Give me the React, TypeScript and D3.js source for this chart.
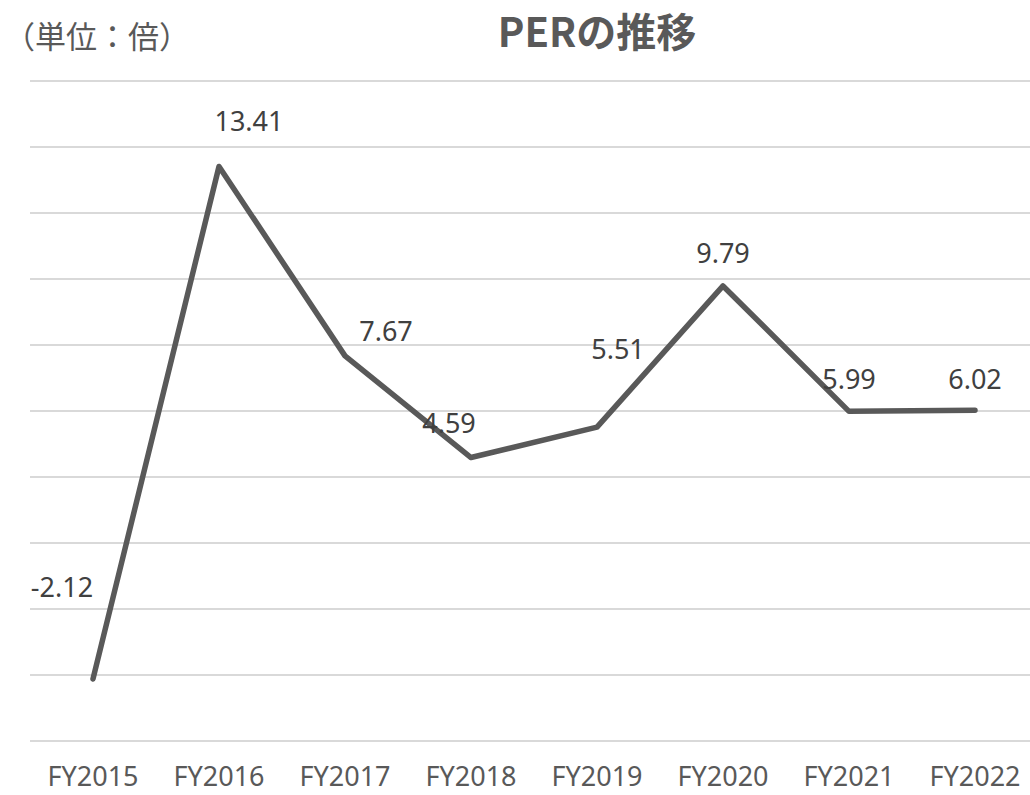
import { useEffect, useRef } from 'react';
import * as d3 from 'd3';

// chart data
const years = ['FY2015', 'FY2016', 'FY2017', 'FY2018', 'FY2019', 'FY2020', 'FY2021', 'FY2022'];
const perValues = [-2.12, 13.41, 7.67, 4.59, 5.51, 9.79, 5.99, 6.02];
const gridTicks = [-4, -2, 0, 2, 4, 6, 8, 10, 12, 14, 16];

// label nudges (Excel labels were moved by hand)
const labelShift: [number, number][] = [
  [-31, -91], [30, -45], [41, -24], [-22, -34], [21, -78], [0, -32], [0, -32], [0, -31],
];

const W = 1030;
const H = 795;

const App = () => {
  const svgRef = useRef<SVGSVGElement>(null);

  useEffect(() => {
    const svg = d3.select(svgRef.current);
    svg.selectAll('*').remove();

    const x = d3.scaleBand().domain(years).range([30, 1038]).padding(0);
    const y = d3.scaleLinear().domain([-4, 16]).range([741, 81]);
    const cx = (d: string) => (x(d) ?? 0) + x.bandwidth() / 2;

    // gridlines
    svg.append('g')
      .selectAll('line')
      .data(gridTicks)
      .enter().append('line')
      .attr('x1', 30)
      .attr('x2', W)
      .attr('y1', d => y(d))
      .attr('y2', d => y(d))
      .attr('stroke', '#d9d9d9')
      .attr('stroke-width', 2);

    // line
    const line = d3.line<number>()
      .x((_, i) => cx(years[i]))
      .y(d => y(d));

    svg.append('path')
      .datum(perValues)
      .attr('d', line)
      .attr('fill', 'none')
      .attr('stroke', '#595959')
      .attr('stroke-width', 5.5)
      .attr('stroke-linejoin', 'round')
      .attr('stroke-linecap', 'round');

    // data labels
    svg.append('g')
      .selectAll('text')
      .data(perValues)
      .enter().append('text')
      .attr('x', (_, i) => cx(years[i]) + labelShift[i][0])
      .attr('y', (d, i) => y(d) + labelShift[i][1])
      .attr('dy', '0.35em')
      .attr('text-anchor', 'middle')
      .attr('font-family', '"Noto Sans", sans-serif')
      .attr('font-size', 27)
      .attr('fill', '#404040')
      .text(d => d.toFixed(2));

    // category labels
    svg.append('g')
      .selectAll('text')
      .data(years)
      .enter().append('text')
      .attr('x', d => cx(d))
      .attr('y', 777)
      .attr('dy', '0.35em')
      .attr('text-anchor', 'middle')
      .attr('font-family', '"Noto Sans", sans-serif')
      .attr('font-size', 27)
      .attr('fill', '#595959')
      .text(d => d);

    // title
    svg.append('text')
      .attr('x', 597)
      .attr('y', 47)
      .attr('text-anchor', 'middle')
      .attr('font-family', '"Noto Sans CJK JP", sans-serif')
      .attr('font-weight', 'bold')
      .attr('font-size', 40)
      .attr('fill', '#595959')
      .text('PERの推移');

    // unit
    svg.append('text')
      .attr('x', 4)
      .attr('y', 37)
      .attr('dy', '0.35em')
      .attr('font-family', '"Noto Sans CJK JP", sans-serif')
      .attr('font-size', 31)
      .attr('fill', '#595959')
      .text('（単位：倍）');
  }, []);

  return (
    <svg
      ref={svgRef}
      width={W}
      height={H}
      style={{ position: 'absolute', left: 0, top: 0, background: '#fff' }}
    />
  );
};

export default App;
